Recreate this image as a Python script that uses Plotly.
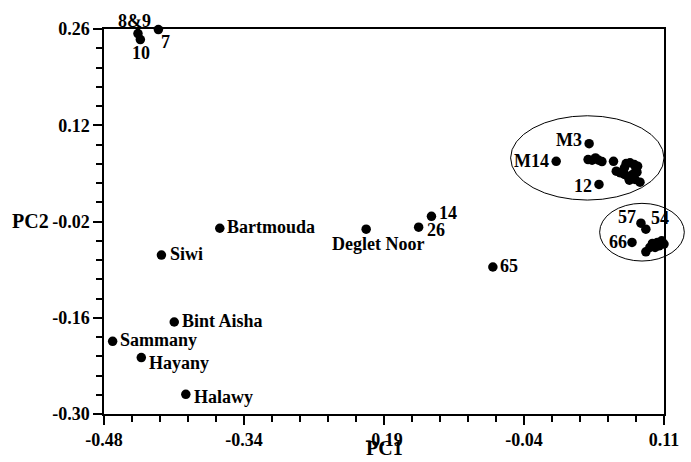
import numpy as np
import plotly.graph_objects as go

# ---------------- data ----------------
labeled_names = ["8&9", "10", "7", "Bartmouda", "Siwi", "Bint Aisha", "Sammany",
                 "Hayany", "Halawy", "Deglet Noor", "14", "26", "65",
                 "M3", "M14", "12", "57", "54", "66"]
labeled_pc1 = [-0.4442, -0.4417, -0.4227, -0.3580, -0.4195, -0.4060, -0.4709,
               -0.4407, -0.3938, -0.2038, -0.1350, -0.1485, -0.0703,
               0.0311, -0.0036, 0.0415, 0.0857, 0.0909, 0.0763]
labeled_pc2 = [0.2534, 0.2447, 0.2592, -0.0298, -0.0688, -0.1662, -0.1943,
               -0.2179, -0.2714, -0.0312, -0.0124, -0.0283, -0.0862,
               0.0932, 0.0676, 0.0339, -0.0225, -0.0312, -0.0505]

cluster_a_pc1 = [0.0300, 0.0342, 0.0378, 0.0412, 0.0446, 0.0568, 0.0701, 0.0742,
                 0.0787, 0.0822, 0.0597, 0.0641, 0.0683, 0.0718, 0.0770, 0.0815,
                 0.0735, 0.0795, 0.0847, 0.0683, 0.0805]
cluster_a_pc2 = [0.0701, 0.0691, 0.0725, 0.0691, 0.0672, 0.0676, 0.0643, 0.0653,
                 0.0628, 0.0604, 0.0532, 0.0508, 0.0484, 0.0459, 0.0484, 0.0517,
                 0.0401, 0.0411, 0.0372, 0.0581, 0.0566]

cluster_b_pc1 = [0.0909, 0.0951, 0.0978, 0.1030, 0.1076, 0.1100, 0.1110, 0.1006, 0.1048]
cluster_b_pc2 = [-0.0641, -0.0577, -0.0519, -0.0505, -0.0481, -0.0529, -0.0447, -0.0577, -0.0554]

x_tick_labels = ["-0.48", "-0.34", "-0.19", "-0.04", "0.11"]
y_tick_labels = ["0.26", "0.12", "-0.02", "-0.16", "-0.30"]
y_tick_values = [0.26, 0.12, -0.02, -0.16, -0.30]

# group ellipses (data units): x0, x1, y0, y1
group_ellipses = [(-0.0516, 0.1100, 0.0112, 0.1338),
                  (0.0422, 0.1314, -0.0775, 0.0064)]

# ---------------- layout / style ----------------
XMIN, XMAX = -0.48, 0.11
YMIN, YMAX = -0.30, 0.26
FONT = "Liberation Serif"

# label placement: anchor, dx (px), dy (px, + = down)
label_style = {
    "8&9": ("center", -3, -13), "10": ("center", 1, 13), "7": ("center", 7, 12),
    "Bartmouda": ("left", 5, -1.5), "Siwi": ("left", 7, -1),
    "Bint Aisha": ("left", 5.5, -1), "Sammany": ("left", 5.5, -1),
    "Hayany": ("left", 5.5, 5), "Halawy": ("left", 6, 3),
    "Deglet Noor": ("center", 12, 15), "14": ("left", 5.5, -3.5),
    "26": ("left", 6, 2.5), "65": ("left", 5, -1),
    "M3": ("right", -5, -3.5), "M14": ("right", -5, 0), "12": ("right", -5, 1.5),
    "57": ("right", -2.5, -6), "54": ("left", 3.5, -11), "66": ("right", -3.5, 0),
}

marker = dict(color="black", size=9.5, line=dict(width=0))

fig = go.Figure()
fig.add_trace(go.Scatter(x=labeled_pc1, y=labeled_pc2, mode="markers",
                         marker=marker, cliponaxis=False, hoverinfo="skip"))
fig.add_trace(go.Scatter(x=cluster_a_pc1, y=cluster_a_pc2, mode="markers",
                         marker=marker, cliponaxis=False, hoverinfo="skip"))
fig.add_trace(go.Scatter(x=cluster_b_pc1, y=cluster_b_pc2, mode="markers",
                         marker=marker, cliponaxis=False, hoverinfo="skip"))

annotations = []
for name, x, y in zip(labeled_names, labeled_pc1, labeled_pc2):
    anchor, dx, dy = label_style[name]
    annotations.append(dict(x=x, y=y, xref="x", yref="y", text="<b>" + name + "</b>",
                            showarrow=False, xanchor=anchor, yanchor="middle",
                            xshift=dx, yshift=-dy,
                            font=dict(family=FONT, size=18, color="black")))

annotations.append(dict(x=0.5, y=-0.1189, xref="paper", yref="paper", text="<b>PC1</b>",
                        showarrow=False, xanchor="center", yanchor="bottom", borderpad=0,
                        font=dict(family=FONT, size=20, color="black")))
annotations.append(dict(x=-0.131, y=0.502, xref="paper", yref="paper", text="<b>PC2</b>",
                        showarrow=False, xanchor="center", yanchor="middle",
                        font=dict(family=FONT, size=20, color="black")))

shapes = []
for (x0, x1, y0, y1) in group_ellipses:
    shapes.append(dict(type="circle", xref="paper", yref="paper",
                       x0=(x0 - XMIN) / (XMAX - XMIN), x1=(x1 - XMIN) / (XMAX - XMIN),
                       y0=(y0 - YMIN) / (YMAX - YMIN), y1=(y1 - YMIN) / (YMAX - YMIN),
                       line=dict(color="black", width=1)))

tickfont = dict(family=FONT, size=18, color="black")

fig.update_layout(
    width=691, height=462,
    margin=dict(l=104, r=21, t=29, b=46),
    paper_bgcolor="white", plot_bgcolor="white",
    showlegend=False,
    annotations=annotations,
    shapes=shapes,
    xaxis=dict(range=[XMIN, XMAX], tickmode="array",
               tickvals=list(np.linspace(XMIN, XMAX, len(x_tick_labels))),
               ticktext=["<b>" + t + "</b>" for t in x_tick_labels],
               ticks="outside", ticklen=9, tickwidth=1.5,
               tickcolor="black", showline=True, linecolor="black", linewidth=1.5,
               mirror=True, showgrid=False, zeroline=False, tickfont=tickfont,
               minor=dict(tickmode="linear", tick0=XMIN, dtick=(XMAX - XMIN) / 20,
                          ticks="outside", ticklen=6, tickwidth=1.5,
                          tickcolor="black", showgrid=False)),
    yaxis=dict(range=[YMIN, YMAX], tickmode="array", tickvals=y_tick_values,
               ticktext=["<b>" + t + "</b>" for t in y_tick_labels],
               ticks="outside", ticklen=9, tickwidth=1.5,
               tickcolor="black", showline=True, linecolor="black", linewidth=1.5,
               mirror=True, showgrid=False, zeroline=False, tickfont=tickfont,
               minor=dict(tickmode="linear", tick0=YMIN, dtick=0.028,
                          ticks="outside", ticklen=6, tickwidth=1.5,
                          tickcolor="black", showgrid=False)),
)

fig.write_html("out.html", config={"displayModeBar": False},
               post_script="document.body.style.margin='0';document.body.style.overflow='hidden';")
